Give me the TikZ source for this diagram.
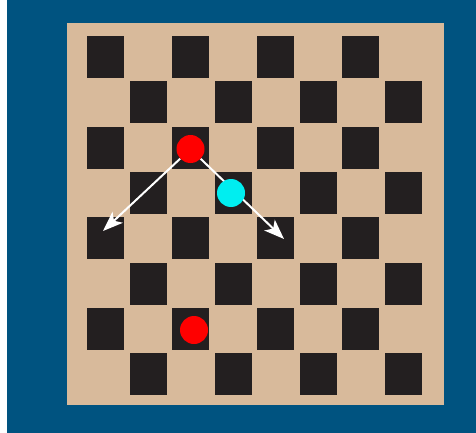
\documentclass[tikz,border=0pt]{standalone}
\usetikzlibrary{arrows.meta}
\definecolor{bgblue}{RGB}{0,83,128}
\definecolor{tan}{RGB}{216,186,155}
\definecolor{sq}{RGB}{35,31,32}
\definecolor{cy}{RGB}{0,238,240}
\tikzset{
  piece/.style={circle,minimum size=28pt,inner sep=0pt,draw=none},
  redp/.style={piece,fill=red},
  cyanp/.style={piece,fill=cy},
  move/.style={draw=white,line width=2pt,-{Stealth[length=20pt,width=15pt,inset=5pt]}}
}
\begin{document}
\begin{tikzpicture}[x=1pt,y=-1pt]
\useasboundingbox (0,0) rectangle (476,433);
\fill[white] (0,0) rectangle (476,433);
\fill[bgblue] (7,0) rectangle (476,433);
\fill[tan] (67,23) rectangle (444,405);
\foreach \i in {0,...,7}{
  \foreach \j in {0,...,7}{
    \pgfmathtruncatemacro{\p}{mod(\i+\j,2)}
    \ifnum\p=0
      \fill[sq] ({87+42.5*\j},{36+45.3*\i}) rectangle ++(37,42);
    \fi
  }
}
\node[redp] (r1) at (190.5,149) {};
\node[redp] (r2) at (194,330) {};
\coordinate (t1) at (103,231);
\coordinate (t2) at (284,239);
\draw[move] (r1) -- (t1);
\draw[move] (r1) -- (t2);
\node[cyanp] (c1) at (231,193) {};
\end{tikzpicture}
\end{document}
